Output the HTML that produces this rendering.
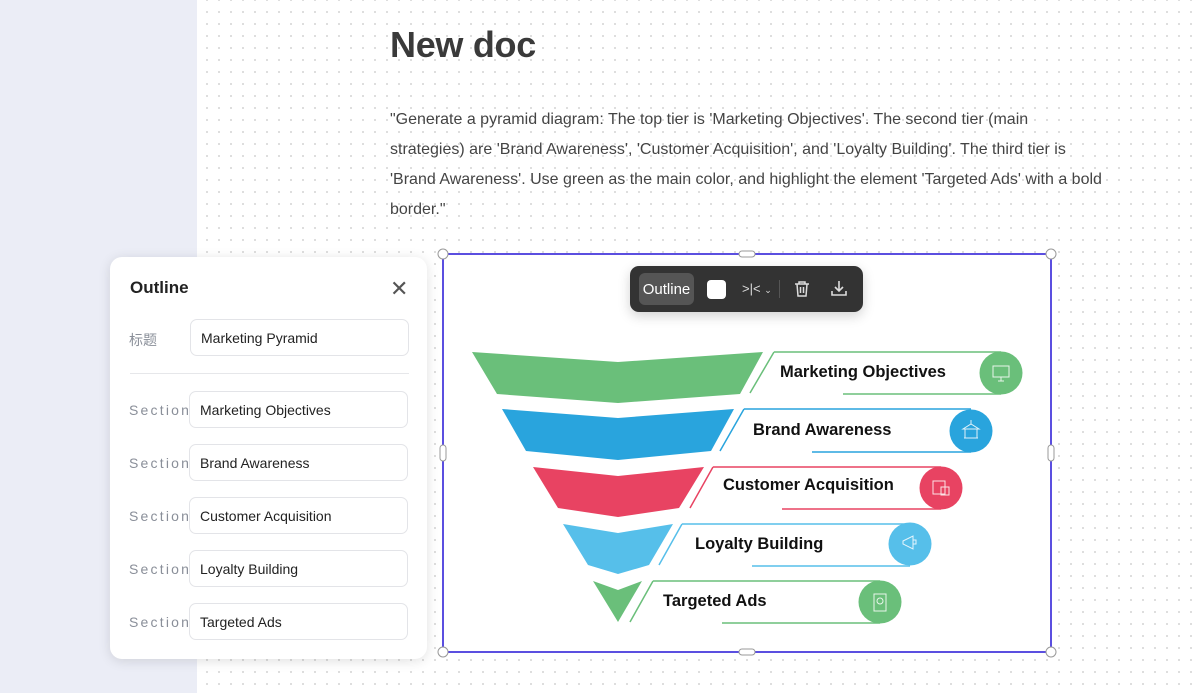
<!DOCTYPE html>
<html><head><meta charset="utf-8"><style>
*{margin:0;padding:0;box-sizing:border-box}
body{width:1202px;height:693px;overflow:hidden;position:relative;background:#fff;font-family:"Liberation Sans","Noto Sans CJK SC",sans-serif}
.side{position:absolute;left:0;top:0;width:197px;height:693px;background:#ebedf6}
.main{position:absolute;left:197px;top:0;width:1005px;height:693px;background-color:#fff;background-image:radial-gradient(circle,#d9d9d9 0.9px,transparent 1.2px);background-size:12px 12px;background-position:4px 6px}
h1{position:absolute;left:390px;top:24px;font-size:36px;font-weight:bold;color:#3a3a3a;letter-spacing:-0.3px}
.para{position:absolute;left:390px;top:105px;font-size:16px;line-height:30px;color:#444;white-space:nowrap;transform:scaleX(1.0);transform-origin:left top}
.panel{position:absolute;left:110px;top:257px;width:317px;height:402px;background:#fff;border-radius:12px;box-shadow:0 2px 12px rgba(0,0,0,.12)}
.panel .t{position:absolute;left:20px;top:21px;font-size:17px;font-weight:bold;color:#222}
.panel .x{position:absolute;left:280px;top:19px;font-size:22px;color:#555;font-weight:300}
.lbl{position:absolute;left:19px;font-size:14px;color:#8a8f99;letter-spacing:2.2px}
.inp{position:absolute;left:79px;width:219px;height:37px;border:1px solid #e3e4e8;border-radius:7px;font-size:14px;color:#222;padding-left:10px;line-height:37px}
.div{position:absolute;left:20px;top:116px;width:279px;height:1px;background:#e6e7ea}
.tb{position:absolute;left:630px;top:266px;width:233px;height:46px;background:#333;border-radius:9px;box-shadow:0 4px 12px rgba(0,0,0,.18)}
.tb .o{position:absolute;left:9px;top:7px;width:55px;height:32px;background:#555;border-radius:6px;color:#fff;font-size:15px;line-height:34px;text-align:center}
.lab{font-family:"Liberation Sans",sans-serif;font-weight:bold;font-size:16.5px;fill:#111}
</style></head><body>
<div class="side"></div>
<div class="main"></div>
<h1>New doc</h1>
<div class="para">"Generate a pyramid diagram: The top tier is 'Marketing Objectives'. The second tier (main<br>strategies) are 'Brand Awareness', 'Customer Acquisition', and 'Loyalty Building'. The third tier is<br>'Brand Awareness'. Use green as the main color, and highlight the element 'Targeted Ads' with a bold<br>border."</div>

<svg style="position:absolute;left:0;top:0" width="1202" height="693">
<rect x="443" y="254" width="608" height="398" fill="#fff" stroke="#5b4fe0" stroke-width="2"/>
<g fill="#fff" stroke="#999" stroke-width="1">
<circle cx="443" cy="254" r="5"/><circle cx="1051" cy="254" r="5"/><circle cx="443" cy="652" r="5"/><circle cx="1051" cy="652" r="5"/>
<rect x="739" y="251" width="16" height="6" rx="3"/><rect x="739" y="649" width="16" height="6" rx="3"/>
<rect x="440" y="445" width="6" height="16" rx="3"/><rect x="1048" y="445" width="6" height="16" rx="3"/>
</g>
<polygon points="472,352 618,362 763,352 740,394 618,403 497,394" fill="#6abf7a"/>
<polygon points="502,409 618,418 734,409 711,451 618,460 526,451" fill="#29a4dd"/>
<polygon points="533,467 618,476 704,467 679,508 618,517 558,508" fill="#e84362"/>
<polygon points="563,524 618,533 673,524 649,565 618,574 588,565" fill="#56bfea"/>
<polygon points="593,581 618,590 642,581 618,622" fill="#6abf7a"/>
<g fill="none" stroke-width="1.5">
<path d="M774,352 L750,393 M774,352 L1001,352 M843,394 L1001,394" stroke="#6abf7a"/>
<path d="M744,409 L720,451 M744,409 L971,409 M812,452 L971,452" stroke="#29a4dd"/>
<path d="M713,467 L690,508 M713,467 L941,467 M782,509 L941,509" stroke="#e84362"/>
<path d="M682,524 L659,565 M682,524 L910,524 M752,566 L910,566" stroke="#56bfea"/>
<path d="M653,581 L630,622 M653,581 L880,581 M722,623 L880,623" stroke="#6abf7a"/>
</g>
<circle cx="1001" cy="373" r="21.5" fill="#6abf7a"/>
<circle cx="971" cy="431" r="21.5" fill="#29a4dd"/>
<circle cx="941" cy="488" r="21.5" fill="#e84362"/>
<circle cx="910" cy="544" r="21.5" fill="#56bfea"/>
<circle cx="880" cy="602" r="21.5" fill="#6abf7a"/>
<g fill="none" stroke="#fff" stroke-width="1" opacity=".85">
<rect x="993" y="366" width="16" height="11"/><path d="M998,381h6M1001,377v4"/>
<path d="M964,438h14M965,438v-9h12v9M963,429h16l-8,-5z M971,424v-4"/>
<rect x="933" y="481" width="12" height="13"/><rect x="941" y="487" width="8" height="8"/>
<path d="M903,541l10,-5v13l-10,-5z M913,540h3v4h-3"/>
<rect x="874" y="594" width="12" height="17"/><circle cx="880" cy="601" r="3"/>
</g>
<text class="lab" x="780" y="377">Marketing Objectives</text>
<text class="lab" x="753" y="435">Brand Awareness</text>
<text class="lab" x="723" y="490">Customer Acquisition</text>
<text class="lab" x="695" y="549">Loyalty Building</text>
<text class="lab" x="663" y="606">Targeted Ads</text>
</svg>

<div class="tb"><div class="o">Outline</div>
<div style="position:absolute;left:77px;top:14px;width:19px;height:19px;background:#fff;border-radius:4px"></div>
<div style="position:absolute;left:112px;top:15px;color:#ddd;font-size:13px">&gt;|&lt; <span style="font-size:9px">⌄</span></div>
<div style="position:absolute;left:149px;top:14px;width:1px;height:18px;background:#555"></div>
<svg style="position:absolute;left:163px;top:14px" width="18" height="18" fill="none" stroke="#ddd" stroke-width="1.5"><path d="M2,4h14M6,4V2h6v2M4,4l1,12h8l1,-12M7.5,7v6M10.5,7v6"/></svg>
<svg style="position:absolute;left:200px;top:13px" width="18" height="18" fill="none" stroke="#ddd" stroke-width="1.6"><path d="M9,2v10M5,8l4,4l4,-4M2,12v4h14v-4"/></svg>
</div>

<div class="panel">
<div class="t">Outline</div><div class="x">✕</div>
<div class="lbl" style="top:73px;letter-spacing:0">标题</div>
<div class="inp" style="left:80px;top:62px">Marketing Pyramid</div>
<div class="div"></div>
<div class="lbl" style="top:145px">Section</div><div class="inp" style="top:134px">Marketing Objectives</div>
<div class="lbl" style="top:198px">Section</div><div class="inp" style="top:187px">Brand Awareness</div>
<div class="lbl" style="top:251px">Section</div><div class="inp" style="top:240px">Customer Acquisition</div>
<div class="lbl" style="top:304px">Section</div><div class="inp" style="top:293px">Loyalty Building</div>
<div class="lbl" style="top:357px">Section</div><div class="inp" style="top:346px">Targeted Ads</div>
</div>
</body></html>
